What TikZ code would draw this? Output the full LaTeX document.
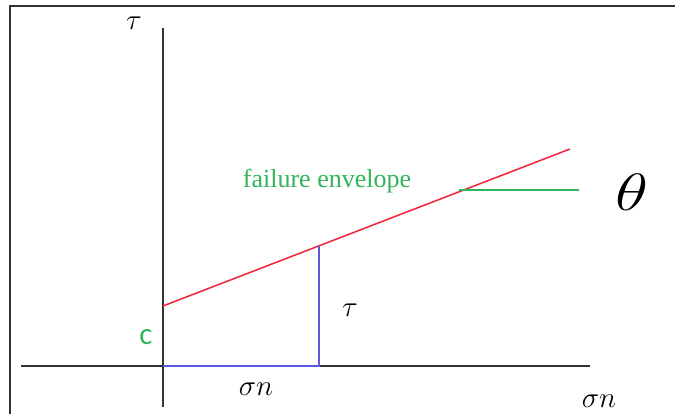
\documentclass[tikz,border=0pt]{standalone}
\usepackage{fontspec}
\setmainfont{Liberation Serif}
\newfontfamily\cfont{Carlito}
\usetikzlibrary{calc}

\definecolor{envred}{RGB}{240,40,60}
\definecolor{envgreen}{RGB}{50,180,90}
\definecolor{compblue}{RGB}{90,90,225}

\begin{document}
\begin{tikzpicture}[
  x=0.025cm, y=-0.025cm,
  frame/.style={draw=black!80, line width=0.9pt},
  axis/.style={draw=black!80, line width=1.5pt},
  env/.style={draw=envred, line width=1.1pt},
  comp/.style={draw=compblue, line width=1.1pt},
  lbl/.style={inner sep=0pt, font=\fontsize{22}{24}\selectfont}
]
  \useasboundingbox (0,0) rectangle (675,414);
  \draw[frame] (10,414) -- (10,6) -- (675,6);

  % axes
  \coordinate (O) at (163,366);
  \coordinate (ytop) at (163,28);
  \coordinate (ybot) at (163,407);
  \coordinate (xl) at (21,366);
  \coordinate (xr) at (590,366);
  \draw[axis] (ybot) -- (ytop);
  \draw[axis] (xl) -- (xr);

  % failure envelope
  \coordinate (c0) at (163,306);
  \coordinate (c1) at (570,149);
  \draw[env] (c0) -- (c1);
  \coordinate (P) at ($(c0)!0.383!(c1)$);
  \coordinate (G) at (459,190);
  \coordinate (gend) at (579,190);
  \draw[draw=envgreen, line width=1.4pt] (G) -- (gend);

  % stress components
  \draw[comp] (O) -- (O -| P) -- (P);

  \node[lbl] (tauy) at (134,23) {$\tau$};
  \node[lbl] (taup) at (350,310) {$\tau$};
  \node[lbl] (sigp) at (256,389) {$\sigma n$};
  \node[lbl] (sigx) at (599,401) {$\sigma n$};
  \node[lbl, font=\cfont\fontsize{22}{24}\selectfont, text=envgreen] (coh) at (146,337) {c};
  \node[inner sep=0pt, font=\fontsize{18.5}{22}\selectfont, text=envgreen] (envlbl) at (327,181) {failure envelope};
  \node[lbl, scale=1.8, xscale=1.3] (theta) at (632,192) {$\theta$};
\end{tikzpicture}
\end{document}
